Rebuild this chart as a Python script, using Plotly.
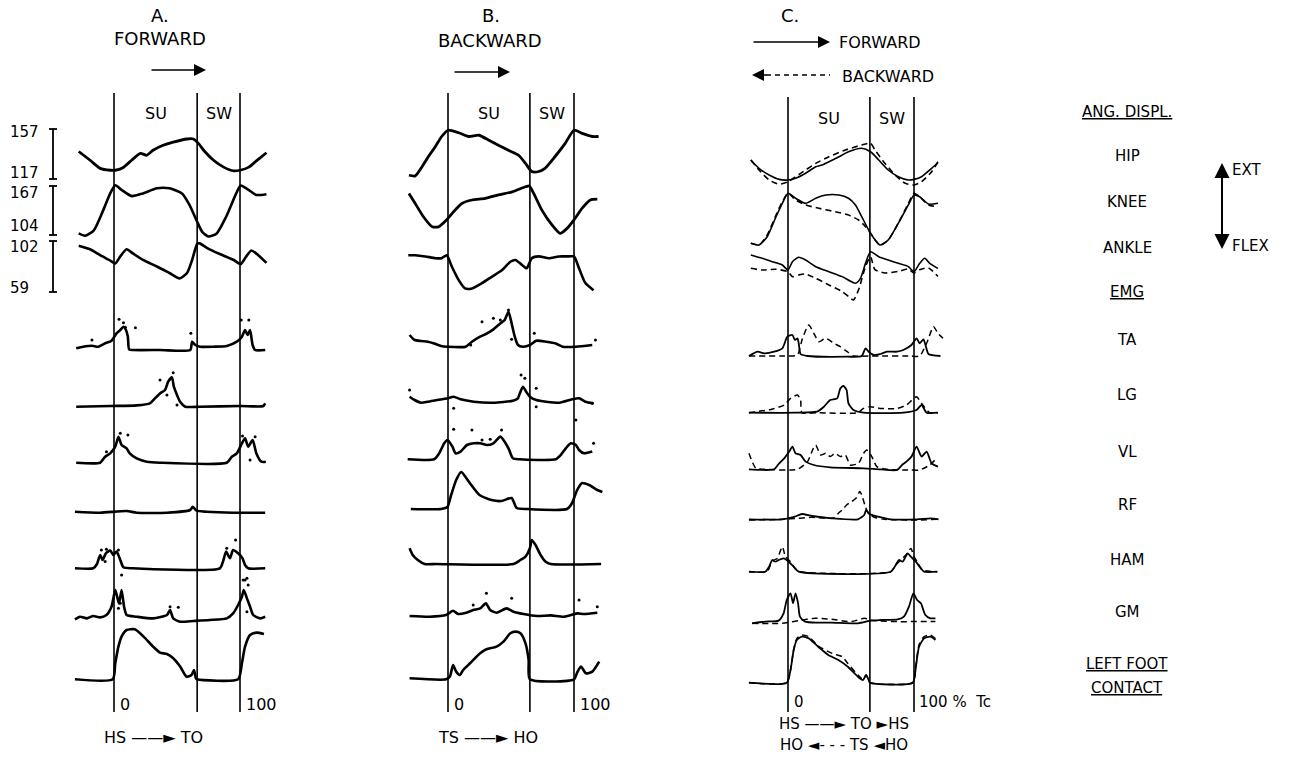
import plotly.graph_objects as go

W, H = 1299, 767
FONT = "DejaVu Sans"

# ---------------- DATA (x = % of step cycle Tc) ----------------
# Angular displacement in degrees; EMG / foot contact in arbitrary amplitude units.
# ---- Panel A: forward ----
A_x_hip = [-28,-19,-11,-3,1,7,14,21,26,31,39,47,58,63,67,72,79,87,95,100,107,113,121]
A_hip = [139,132,125.5,124,124,126,132,137.5,136,140,144,146.5,149,149,145.5,139,132,126.5,123.5,124,126.5,131.5,138]
A_x_knee = [-28,-23,-16,-8.5,-3,1,6,14,23,34,44,54,60,66,70,75,81.5,89,97,100.5,105,113,121]
A_knee = [106,103,110,136,157.5,168,162,154,157.5,164,164,157.5,142.5,121,108,102,106,127.5,157.5,167.5,164,155.5,156.5]
A_x_ank = [-28,-19,-11,-3,1,5,10,15,23,34,44,52,58,62,66,68,74,84,95,100.5,105,109,114.5,121]
A_ank = [98,95,90,85.5,83,89,95,91.5,86,80.5,75,70.5,75,86,99.5,100,96,91,86,82.5,89,94,90,83.5]
A_x_ta = [-30,-24.5,-17.5,-12.5,-7,-2,2,5,7.5,9.5,11,12,15,36.5,60.5,62,64.5,68.5,79,89.5,97.5,101.5,104,106,108,110,112,120]
A_ta = [1.7,3.3,4.3,3.3,6.7,9.3,16.7,20,23.3,20,13.3,0.7,0,0,0,8.3,5,3.3,3.3,4,8.3,13.3,20,15,20,5,0,0]
A_x_lg = [-30,-3,18,28.5,32.5,36.5,40.5,43,46,47.5,50,52.5,56.5,68,100,118.5,120]
A_lg = [0,0.7,1.3,3.3,8.3,13.3,16.7,25,29.3,20,11.7,5,0,0,0.7,0.7,3.3]
A_x_vl = [-30,-11,-7,-3,1,3.5,6,10,12.5,18,26,36.5,89.5,93.5,97.5,101.5,104,106.5,110,113,117,120.5]
A_vl = [0,0,6,9.3,16,26,17.7,14.3,9.3,4.3,1,0,0,6,9.3,19.3,24.3,16,22.7,9.3,1,1]
A_x_rf = [-31,-11,10,18,42,60.5,62.5,65.5,73.5,94.5,120]
A_rf = [1,0,1.7,0,0,2.7,6,2,1,0,0]
A_x_ham = [-31,-16.5,-13.5,-11,-9,-6.5,-3,-0.5,2,5,7.5,15,84,86.5,89,92,94.5,98.5,102,104,106.5,120]
A_ham = [0,0,4.3,13.3,8.3,15,17.7,13.3,16.7,8.3,1,0,0,6.7,16.7,10,18.3,15,10,3.3,0,0]
A_x_gm = [-31,-27,-21.5,-16.5,-11,-6,-2,1,2.5,4,6,8,10,18,31,42,44.5,47,52.5,63,76,89.5,94.5,98.5,101.5,103,105.5,108,110.5,116,120]
A_gm = [2.3,5,3.3,5.7,4.3,6.7,15,31.7,25,18.3,31.7,15,6.7,5,3.3,6.7,11.7,3.3,0,0.7,1.7,3.3,8.3,16.7,25,31.7,23.3,15,6.7,3.3,5]
A_x_foot = [-31,-1,1,3.5,6,10,16.5,23.5,31,36.5,42,47,52.5,57.5,61.5,63.5,65,66,98.5,101.5,104,108,113,119]
A_foot = [0,0,16,32.7,42.7,49.3,50,42.7,32.7,26.7,25.3,21,12.7,2.7,4.3,9.3,1,0,0,16,32.7,44.3,46.7,45.3]
# individual-trial dots (x %, amplitude) per EMG row
A_dots = {
    "TA": ([4,7.5,9,17,61,101,107,-17.5], [30.7,27.3,22.7,22.3,16.7,30,30,10]),
    "LG": ([36.5,47,42,50], [26.7,34,11.7,1.7]),
    "VL": ([5,11,-6,102,112,108], [29.4,27.7,11,26.7,26,2.7]),
    "HAM": ([-10,-6,-7,3.5,6,96.5,89.5,102.5,105.5], [18.3,19,6.7,18.3,-6.7,28.3,20,-11.7,-10]),
    "GM": ([5,3.5,44.5,51,104,106.5,105.5], [18.4,13.4,15,14.4,41.7,36.7,10]),
}

# ---- Panel B: backward ----
B_x_hip = [-31,-26,-20.5,-15.5,-10,-5,0,8.5,16.5,24.5,32.5,40,48,56,61.5,66.5,72,77,85,93,100,106.5,114.5,119.5]
B_hip = [120,119.5,127,135,143,151,156,154,151,152,148,144,140,136,129.5,123,123,125.5,135,145.5,156,153.5,151,151]
B_x_knee = [-31,-26,-19.5,-12.5,-7.5,-1,4.5,11,19,29.5,40,51,61.5,64.5,68,74.5,82.5,89,94.5,100,106.5,113,118.5]
B_knee = [157.5,144.5,127.5,114.5,114.5,123.5,134,144.5,149,151,155.5,159.5,166,167,157.5,136,117,106,112.5,123.5,138.5,149,150]
B_x_ank = [-31.5,-26,-18,-10,-5,-1,3,8.5,13.5,19,27,35,43,49.5,53.5,58.5,62.5,66.5,72,80,88,96,100,104,109,115.5]
B_ank = [90,90,89,87.5,87.5,90,80.5,69,62,62,66.5,72,77.5,84.5,86,82,79,87.5,89,87.5,89,89,89,79,66.5,60.5]
B_x_ta = [-30.5,-26.5,-21.5,-16,-11,-5.5,-0.5,14,19,25.5,31,36,41.5,45,48,50.5,53,55.5,59.5,65,70,78,85.5,91,101.5,114.5]
B_ta = [11.7,6.7,5.7,5,3.3,0.7,0,0,5,10,13.3,17.3,23.3,26.7,35,23.3,10,1.7,0,1.7,6,5,3.3,0,0,1.7]
B_x_lg = [-30.5,-26.5,-21.5,-16,-8.5,-0.5,4.5,10,20.5,36,51.5,55.5,57,59.5,62,65,70,78,88.5,98.5,104,109,115.5]
B_lg = [7.3,4,1.3,2.3,4,5.7,7.3,4.7,2.3,1.3,3.3,5.7,10.7,17.3,12.3,7.3,4,2.3,1.3,4.7,5.7,2.3,0.7]
B_x_vl = [-32,-11,-7,-3,-0.5,3.5,6,10,15,20.5,25.5,31,36,41.5,44,48,51.5,57,85.5,89.5,93.5,97.5,101.5,104,108,114.5]
B_vl = [0,0,6,16,19.3,12.7,6,7.7,14.3,16,16,14.3,16,22.7,19.3,11,1,0,0,4.3,11,16,14.3,9.3,6,7.7]
B_x_rf = [-29.5,-5.5,-0.5,2.5,6.5,10.5,14.5,18.5,25,34.5,42.5,50.5,54.5,62.5,94.5,98.5,102.5,106.5,112,118.5,122.5]
B_rf = [0,0,2,14,29,37,31,24,14,9,8,11,1,0,0,6,19,26,24,19,17]
B_x_ham = [-30.5,-28,-24,-18.5,-9.5,52,57.5,61.5,65,66.5,69.5,73.5,77.5,81.5,121.5]
B_ham = [15.7,9,4,0,0,0,4,7.3,15.7,24,19,9,2.3,0,0]
B_x_gm = [-30.5,-14.5,-1.5,4,8,14.5,20,25.5,30,33.5,38.5,46.5,52,60,70.5,81.5,92,102.5,108,118.5]
B_gm = [0.7,0,1.7,6,2.7,4,6.7,8.3,13.3,6.7,4,8.3,5,2.7,0.7,1.3,0,3.3,2.7,4]
B_x_foot = [-30.5,-1.5,1.5,4,6.5,9.5,12,17.5,25.5,30.5,38.5,44,49.5,53.5,57.5,61.5,64,65,100,102.5,105.5,109.5,114.5,120]
B_foot = [1,0,2.7,14.3,7.7,4.3,9.3,16,26,30,32.7,37.7,46,47.7,46,36,19.3,0,0,6.7,12.7,6,7.7,17.7]
B_dots = {
    "TA": ([27,36,41.5,48,50.5,18,117,68.5], [25,28.4,26.7,36.7,7.4,1.7,6.7,13.4]),
    "LG": ([58,61,70,70,114.5,-30.5,4.5], [29,25.7,15.7,-2.7,0.7,14,-4.3]),
    "VL": ([4.5,19,33.5,42.5,27,101.5,115.5], [30,29.3,20,29.3,19.3,39.3,16]),
    "GM": ([30.5,50.5,20,118.5,104], [23.4,18.4,11.7,10,16.7]),
}

# ---- Panel C: forward (solid) vs backward (dashed) ----
C_x_hip_f = [-29.5,-23,-15,-7,0,6,14,22,27,32.5,40.5,48,58.5,65.5,72,79.5,87.5,95.5,100,106,114,119]
C_hip_f = [139.4,132.7,127.4,123.9,123.4,124.8,128.8,134,135.4,138,142,146,148.8,146,139.4,131.4,126,123.4,123.9,126,132.7,137.2]
C_x_hip_b = [-29.5,-23,-15,-7,0,6,14,22,32.5,45.5,58.5,65.5,69,77,85,93,100,106,114,119]
C_hip_b = [139.4,131.4,123.4,120,122,126,131.4,136.7,142,147.4,151.4,152.8,147.4,136.7,127.4,120.8,119.4,122,130,138]
C_x_knee_f = [-29.5,-23,-16.5,-9.5,-4.5,0,6,14,22,30,40.5,48,53.5,58.5,65.5,73,79.5,87.5,95.5,100,104.5,111.5,119]
C_knee_f = [103.6,101.4,112.1,137.8,155,167.9,161.5,155,161.5,165.7,165.7,161.5,152.9,137.8,116.5,101.4,107.8,129.3,152.9,165.7,163.5,154.1,155]
C_x_knee_b = [-29.5,-23,-16.5,-9.5,-4.5,0,6,14,24.5,37.5,48,56,61.5,65.5,73,79.5,87.5,95.5,100,104.5,111.5,119]
C_knee_b = [103.6,101.4,114.3,140,157.1,167.9,159.3,152.9,148.6,144.2,140,133.6,125,116.5,101.4,107.8,129.3,155,167.9,163.5,152.9,150.7]
C_x_ank_f = [-29.5,-20.5,-12.5,-4.5,0,3.5,8.5,14,22,32.5,43,53.5,57.5,61.5,65.5,72,79.5,87.5,95.5,100,104.5,108.5,112.5,119]
C_ank_f = [97,94.2,91.3,88.5,84.3,91.3,95,92.7,87.1,82.9,78.7,73.1,77.3,89.9,99.7,95.5,92.7,89.9,87.1,82.9,89.9,94.2,89.9,85.7]
C_x_ank_b = [-29.5,-20.5,-9.5,0,3.5,8.5,14,22,32.5,43,48,52,56,61.5,65.5,69,77,87.5,95.5,100,104.5,111.5,119]
C_ank_b = [85.7,84.3,84.9,82.9,78.7,80.1,80.9,77.3,71.7,66.1,61.9,59.1,67.5,87.1,95.5,84.6,81.8,83.1,85.1,81.8,84.6,86,78.9]
C_x_ta_f = [-31,-24,-19,-11,-4.5,-0.5,3.5,5.5,7.5,8.5,10,15.5,47,58.5,61.5,64,68,73,78.5,86.5,91.5,98,102,104.5,107.5,109.5,111.5,121]
C_ta_f = [0,4.3,2.7,4.3,7.7,19.3,21,16,17.7,12.7,2,0,-0.7,0,7.7,4.3,1,2,4.3,4.3,6,11,17.7,12.7,16.7,9.3,2,0]
C_x_ta_b = [-31,-6,1,7.5,11.5,16.5,20.5,24.5,30,36.5,41.5,47,52,65,73,97,104.5,110,115.5,119,123]
C_ta_b = [0,0,0,1,17.7,31,22.7,14.3,17.7,12.7,9.3,4.3,0,0,0,0,0,12.7,29.3,22.7,17.7]
C_x_lg_f = [-31,7.5,23,28.5,33.5,39,41.5,44,46.5,48,52,60,91.5,102,106,110,119]
C_lg_f = [0,0,1,6,12.7,14.3,24.3,26.7,22.7,9.3,2.7,0,0,2.7,7.7,0,0]
C_x_lg_b = [-31,-13.5,-3,2,7.5,10,11,23,55,60,65.5,73,86.5,94,102,106,112.5,119]
C_lg_b = [0,3.3,7.7,14.3,17.7,12.7,0,0,0,4.3,6,4.3,4.3,7.7,16,9.3,0,0]
C_x_vl_f = [-31,-11,-7,-3,1,3.5,6,10,14,20.5,33.5,60,73,86.5,90.5,94,98,102,106,110,114,119]
C_vl_f = [0,0,6,11,17.7,22.7,16,14.3,7.7,4.3,2,1,0,-0.7,4.3,7.7,12.7,22.7,12.7,17.7,6,2.7]
C_x_vl_b = [-31,-25.5,-19,7.5,15.5,19.5,22,26,30,33.5,37.5,41.5,45.5,49.5,56,60,62.5,66.5,70.5,78.5,97,104.5,112.5,118]
C_vl_b = [16,1,0,0,7.7,19.3,24.3,14.3,16,12.7,16,12.7,14.3,4.3,6,16,19.3,12.7,2.7,0,-0.7,-0.7,4.3,11]
C_x_rf_f = [-31,-4.5,5.5,11,19,34.5,55.5,60.5,62,64.5,71.5,81.5,102.5,113,119.5]
C_rf_f = [0,0,2.7,5.3,3.3,1,0,4.3,9.3,5.3,2.7,0,0,1,0]
C_x_rf_b = [-31,-4.5,8.5,19,29.5,37,40,43.5,46.5,50.5,54,57,58.5,61,63.5,68.5,76.5,102.5,119.5]
C_rf_b = [-0.7,0,1,2,1,1.7,6,10,14.3,17.7,21,27.7,24.3,14.3,6.7,2,0,-0.7,0]
C_x_ham_f = [-31,-18,-15,-12.5,-10,-7.5,-3.5,0.5,4.5,8.5,81.5,85.5,88,91,95,97.5,101.5,105.5,108,118.5]
C_ham_f = [0,0,5,11.7,10,11.7,13.3,10,5,0,0,6.7,11.7,10,18.3,15,10,3.3,0,0]
C_x_ham_b = [-31,-16.5,-14,-11,-8.5,-4.5,-2,2,5.5,9.5,81.5,85.5,89.5,93.5,97.5,100,102.5,106.5,118.5]
C_ham_b = [0,0,6.7,11.7,13.3,25,15,10,3.3,0,0,6.7,11.7,16.7,23.3,15,10,1.7,0]
C_x_gm_f = [-28.5,-18,-7.5,-3.5,-1,2,4,6,8,9.5,13.5,24,34.5,55.5,66,74,87,92,96,99.5,102.5,105.5,109,113,117]
C_gm_f = [0,1.7,2.7,10,23.3,30,20,30,20,6.7,1.7,0.7,0.7,0,2.7,3.3,4,6.7,16.7,30,23.3,20,8.3,5,5]
C_x_gm_b = [-28.5,-4.5,8.5,21.5,34.5,50.5,60.5,68.5,87,100,117]
C_gm_b = [0,0,2.7,5,4,1.7,5,2.7,1.7,1.7,1.7]
C_x_foot_f = [-31,-1,2,4.5,7,11,16.5,24,32,40,47.5,55.5,59.5,62,64,65,99,101.5,104,108,113,117]
C_foot_f = [0,0,12.7,32.7,42.7,46,44.3,36,27.7,22.7,16,6,2.7,7.7,2.7,0,0,16,36,44.3,46,42.7]
C_x_foot_b = [-31,-1,2,4.5,7,11,16.5,24,35,43,47.5,55.5,59.5,62,64,65,99,101.5,104,108,113,117]
C_foot_b = [0,0,12.7,33,44,47.7,46,36.7,29.3,26,19.3,7.7,3.3,7.7,2.7,0,0,17,38,46,47.7,44]

# labels
ANG_SCALE_LABELS = [("157", "117"), ("167", "104"), ("102", "59")]
ROW_LABELS = ["HIP", "KNEE", "ANKLE", "TA", "LG", "VL", "RF", "HAM", "GM"]

# ---------------- LAYOUT GEOMETRY ----------------
ZERO_PX = {"A": 114, "B": 448, "C": 788}      # pixel position of 0 %
PX_PER_PCT = 1.26
X_RANGE = [-40, 130]
TO_PCT = {"A": 66, "B": 65, "C": 65}
XAX = {"A": "x", "B": "x2", "C": "x3"}
ANG_SCALE = [(157, 117, 50), (167, 104, 49), (102, 59, 51)]
ANG_TOP = {"A": (129, 186, 241), "B": (129, 186, 241), "C": (138, 194, 249)}
EMG_BASE = {
    "A": dict(TA=350, LG=406.7, VL=462.7, RF=512.7, HAM=568.3, GM=621.7, FOOT=679.3),
    "B": dict(TA=346.7, LG=404, VL=459.3, RF=509, HAM=564, GM=616.7, FOOT=679.3),
    "C": dict(TA=356, LG=412.7, VL=469.3, RF=519.3, HAM=571.7, GM=623.3, FOOT=682.7),
}
EMG_GAIN = 1.0


def ang_y(vals, panel, row):
    hi, lo, h = ANG_SCALE[row]
    top = ANG_TOP[panel][row]
    return [top + (hi - v) * h / (hi - lo) for v in vals]


def emg_y(vals, panel, row):
    b = EMG_BASE[panel][row]
    return [b - v * EMG_GAIN for v in vals]


fig = go.Figure()


def line(panel, x, y, width=2.4, dash=None):
    fig.add_trace(go.Scatter(
        x=x, y=y, mode="lines", xaxis=XAX[panel], yaxis="y",
        line=dict(color="black", width=width, dash=dash, shape="spline", smoothing=0.6),
        hoverinfo="skip", showlegend=False))


def dots(panel, row, x, a):
    fig.add_trace(go.Scatter(
        x=x, y=emg_y(a, panel, row), mode="markers", xaxis=XAX[panel], yaxis="y",
        marker=dict(color="black", size=3), hoverinfo="skip", showlegend=False))


# Panel A
line("A", A_x_hip, ang_y(A_hip, "A", 0), 2.8)
line("A", A_x_knee, ang_y(A_knee, "A", 1), 2.6)
line("A", A_x_ank, ang_y(A_ank, "A", 2), 2.6)
for row, xs, vs in [("TA", A_x_ta, A_ta), ("LG", A_x_lg, A_lg), ("VL", A_x_vl, A_vl),
                    ("RF", A_x_rf, A_rf), ("HAM", A_x_ham, A_ham), ("GM", A_x_gm, A_gm),
                    ("FOOT", A_x_foot, A_foot)]:
    line("A", xs, emg_y(vs, "A", row), 2.6)
for row, (xs, vs) in A_dots.items():
    dots("A", row, xs, vs)

# Panel B
line("B", B_x_hip, ang_y(B_hip, "B", 0), 2.8)
line("B", B_x_knee, ang_y(B_knee, "B", 1), 2.8)
line("B", B_x_ank, ang_y(B_ank, "B", 2), 2.6)
for row, xs, vs in [("TA", B_x_ta, B_ta), ("LG", B_x_lg, B_lg), ("VL", B_x_vl, B_vl),
                    ("RF", B_x_rf, B_rf), ("HAM", B_x_ham, B_ham), ("GM", B_x_gm, B_gm),
                    ("FOOT", B_x_foot, B_foot)]:
    line("B", xs, emg_y(vs, "B", row), 2.6)
for row, (xs, vs) in B_dots.items():
    dots("B", row, xs, vs)

# Panel C
for i, (xf, vf, xb, vb) in enumerate([(C_x_hip_f, C_hip_f, C_x_hip_b, C_hip_b),
                                       (C_x_knee_f, C_knee_f, C_x_knee_b, C_knee_b),
                                       (C_x_ank_f, C_ank_f, C_x_ank_b, C_ank_b)]):
    line("C", xf, ang_y(vf, "C", i), 1.6)
    line("C", xb, ang_y(vb, "C", i), 1.6, "6px,4px")
for row, xf, vf, xb, vb in [("TA", C_x_ta_f, C_ta_f, C_x_ta_b, C_ta_b),
                            ("LG", C_x_lg_f, C_lg_f, C_x_lg_b, C_lg_b),
                            ("VL", C_x_vl_f, C_vl_f, C_x_vl_b, C_vl_b),
                            ("RF", C_x_rf_f, C_rf_f, C_x_rf_b, C_rf_b),
                            ("HAM", C_x_ham_f, C_ham_f, C_x_ham_b, C_ham_b),
                            ("GM", C_x_gm_f, C_gm_f, C_x_gm_b, C_gm_b),
                            ("FOOT", C_x_foot_f, C_foot_f, C_x_foot_b, C_foot_b)]:
    line("C", xf, emg_y(vf, "C", row), 1.8)
    line("C", xb, emg_y(vb, "C", row), 1.5, "6px,4px")

shapes = []
annotations = []

# vertical event lines
for p in ["A", "B", "C"]:
    top = 97 if p == "C" else 93
    for xv in [0, TO_PCT[p], 100]:
        shapes.append(dict(type="line", xref=XAX[p], yref="y", x0=xv, x1=xv, y0=top, y1=712,
                           line=dict(color="black", width=1.6)))


def text(px, py, s, size=15, anchor="center"):
    annotations.append(dict(x=px / W, y=py, xref="paper", yref="y", text=s, showarrow=False,
                            xanchor=anchor, yanchor="middle",
                            font=dict(family=FONT, size=size, color="black")))


def ptext(panel, xv, py, s, size=15, anchor="center"):
    annotations.append(dict(x=xv, y=py, xref=XAX[panel], yref="y", text=s, showarrow=False,
                            xanchor=anchor, yanchor="middle",
                            font=dict(family=FONT, size=size, color="black")))


def arrow(x0, y0, x1, y1, width=1.6):
    annotations.append(dict(x=x1 / W, y=y1, xref="paper", yref="y", text="", showarrow=True,
                            ax=x0 - x1, ay=y0 - y1, axref="pixel", ayref="pixel",
                            arrowhead=2, arrowsize=1.5, arrowwidth=width, arrowcolor="black",
                            standoff=0))


def seg(x0, y0, x1, y1, width=1.6, dash=None):
    shapes.append(dict(type="line", xref="paper", yref="y", x0=x0 / W, x1=x1 / W, y0=y0, y1=y1,
                       line=dict(color="black", width=width, dash=dash)))


# SU / SW and cycle ticks
for p in ["A", "B", "C"]:
    yy = 118 if p == "C" else 113
    ptext(p, TO_PCT[p] / 2, yy, "SU", 16)
    ptext(p, (TO_PCT[p] + 100) / 2, yy, "SW", 16)
ptext("A", 3, 704, "0", 16, "left")
ptext("B", 3, 704, "0", 16, "left")
ptext("C", 3, 702, "0", 15, "left")
ptext("A", 103, 704, "100", 16, "left")
ptext("B", 103, 704, "100", 16, "left")
ptext("C", 102, 702, "100 %  Tc", 15, "left")

# headers
text(160, 15, "A.", 18)
text(160, 38, "FORWARD", 18)
arrow(150, 70, 206, 70)
text(491, 15, "B.", 18)
text(490, 40, "BACKWARD", 18)
arrow(453, 72, 510, 72)
text(790, 15, "C.", 18)
arrow(752, 42, 830, 42)
text(837, 42, "FORWARD", 16, "left")
seg(766, 75, 830, 75, 1.6, "5px,4px")
arrow(768, 75, 752, 75)
text(840, 76, "BACKWARD", 16, "left")

# bottom labels
text(153, 737, "HS ——► TO", 16)
text(488, 737, "TS ——► HO", 16)
text(844, 724, "HS ——► TO ►HS", 15)
text(844, 745, "HO ◄- - - TS ◄HO", 15)

# angular scale bars (panel A), drawn in degree scale
BAR_X = 53
LAB_SHIFT = [(3, -6), (7, -9), (6, -4)]
for i, (hi_lab, lo_lab) in enumerate(ANG_SCALE_LABELS):
    hi, lo, _ = ANG_SCALE[i]
    y_hi = ang_y([hi], "A", i)[0]
    y_lo = ang_y([lo], "A", i)[0]
    seg(BAR_X, y_hi, BAR_X, y_lo, 1.8)
    for yy in (y_hi, y_lo):
        seg(BAR_X - 4, yy, BAR_X + 4, yy, 1.8)
    text(8, y_hi + LAB_SHIFT[i][0], hi_lab, 15, "left")
    text(8, y_lo + LAB_SHIFT[i][1], lo_lab, 15, "left")

# right-hand legend column
RX = 1127
text(RX, 112, "<u>ANG. DISPL.</u>", 15)
for lab, yy in zip(ROW_LABELS, [156, 202, 248, 340, 395, 452, 505, 560, 612]):
    text(RX, yy, lab, 15)
text(RX, 292, "<u>EMG</u>", 15)
text(RX, 664, "<u>LEFT FOOT</u>", 15)
text(RX, 688, "<u>CONTACT</u>", 15)
seg(1222, 170, 1222, 242, 2)
arrow(1222, 180, 1222, 163, 2)
arrow(1222, 232, 1222, 249, 2)
text(1230, 170, "EXT", 15, "left")
text(1230, 246, "FLEX", 15, "left")


def xdom(p):
    z = ZERO_PX[p]
    return [(z + X_RANGE[0] * PX_PER_PCT) / W, (z + X_RANGE[1] * PX_PER_PCT) / W]


layout_axes = {}
for p, name in [("A", "xaxis"), ("B", "xaxis2"), ("C", "xaxis3")]:
    layout_axes[name] = dict(domain=xdom(p), range=X_RANGE, visible=False, anchor="y",
                             fixedrange=True)

fig.update_layout(
    width=W, height=H, margin=dict(l=0, r=0, t=0, b=0),
    paper_bgcolor="white", plot_bgcolor="white", showlegend=False,
    yaxis=dict(domain=[0, 1], range=[H, 0], visible=False, fixedrange=True),
    shapes=shapes, annotations=annotations,
    **layout_axes,
)

fig.write_html("out.html", config={"displayModeBar": False},
               post_script="document.body.style.margin='0px';")
